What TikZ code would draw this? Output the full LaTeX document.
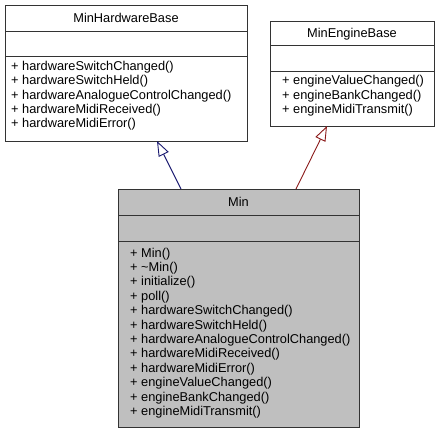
\documentclass[tikz,border=0pt]{standalone}
\usepackage{fontspec}
\setmainfont{Liberation Sans}
\usetikzlibrary{arrows.meta}
\definecolor{boxline}{HTML}{333333}
\definecolor{pubblue}{HTML}{191970}
\definecolor{privred}{HTML}{8B1A1A}
\definecolor{mingray}{HTML}{BFBFBF}
\tikzset{
  classbox/.style={draw=boxline, line width=1pt, inner sep=0pt, anchor=north west},
  divline/.style={draw=boxline, line width=0.9pt},
  title/.style={inner sep=0pt, anchor=base, font=\fontsize{12.8}{14}\selectfont},
  member/.style={inner sep=0pt, anchor=base west, font=\fontsize{12.8}{14}\selectfont},
  inh/.style={line width=0.9pt, -{Triangle[open, length=15pt, width=11pt, fill=white]}},
}
\begin{document}
\begin{tikzpicture}[x=1pt, y=-1pt]
\useasboundingbox (0,0) rectangle (439,433);
% boxes
\node[classbox, minimum width=242pt, minimum height=136pt] (mhb) at (5,5) {};
\node[classbox, minimum width=164pt, minimum height=105pt] (meb) at (270,21) {};
\node[classbox, fill=mingray, minimum width=241pt, minimum height=238pt] (min) at (118,189) {};
% dividers
\draw[divline] (5,31) -- (247,31);
\draw[divline] (5,56) -- (247,56);
\draw[divline] (270,45) -- (434,45);
\draw[divline] (270,71) -- (434,71);
\draw[divline] (118,215) -- (359,215);
\draw[divline] (118,241) -- (359,241);
% titles
\node[title] (mhbt) at (126,23) {MinHardwareBase};
\node[title] (mebt) at (352,38) {MinEngineBase};
\node[title] (mint) at (238.5,206) {Min};
% members MinHardwareBase
\node[member] (h1) at (11,71) {+ hardwareSwitchChanged()};
\node[member] (h2) at (11,85) {+ hardwareSwitchHeld()};
\node[member] (h3) at (11,99.5) {+ hardwareAnalogueControlChanged()};
\node[member] (h4) at (11,114) {+ hardwareMidiReceived()};
\node[member] (h5) at (11,128) {+ hardwareMidiError()};
% members MinEngineBase
\node[member] (e1) at (282,85) {+ engineValueChanged()};
\node[member] (e2) at (282,99.5) {+ engineBankChanged()};
\node[member] (e3) at (282,114) {+ engineMidiTransmit()};
% members Min
\foreach \t [count=\i from 0] in {Min(),\textasciitilde Min(),initialize(),poll(),hardwareSwitchChanged(),hardwareSwitchHeld(),hardwareAnalogueControlChanged(),hardwareMidiReceived(),hardwareMidiError(),engineValueChanged(),engineBankChanged(),engineMidiTransmit()}
  \node[member] (m\i) at (130,257+14.4*\i) {+ \t};
% connectors
\coordinate (minA) at (181,189);
\coordinate (mhbA) at (157,141);
\coordinate (minB) at (296,189);
\coordinate (mebB) at (327,126);
\draw[inh, draw=pubblue] (minA) -- (mhbA);
\draw[inh, draw=privred] (minB) -- (mebB);
\end{tikzpicture}
\end{document}
